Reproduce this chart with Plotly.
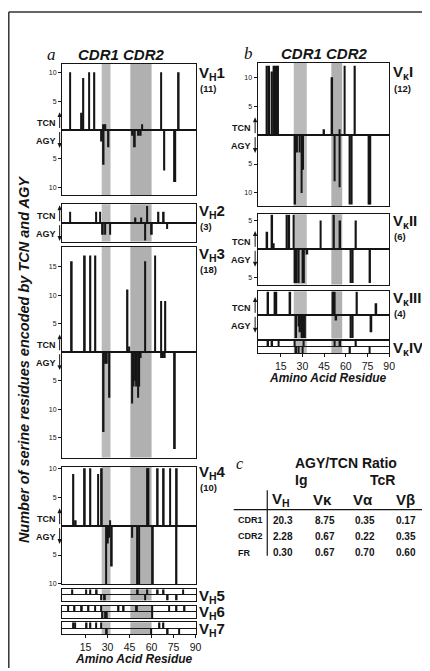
import plotly.graph_objects as go

W, H = 430, 671          # target window
OX, OY = 8, 8            # default page margin of the html body
FW, FH = W - OX, H - OY  # figure size
FONT = "Liberation Sans, Arial, sans-serif"
SERIF = "Liberation Serif, DejaVu Serif, serif"
INK = "#151515"

# ---------------- data (residue position, number of sequences) ----------------
residue_ticks = [15, 30, 45, 60, 75, 90]

# panel a : VH families
vh1_tcn_pos = [4.5, 12.5, 13.5, 17.5, 21, 27.5, 28.5, 53.5, 66.5, 78.5]
vh1_tcn_n   = [10, 3, 9, 10, 10, 1, 1, 1, 10, 10]
vh1_agy_pos = [26, 27.3, 30.6, 46.8, 48.6, 50.8, 52.6, 68.7, 75.4, 76.2]
vh1_agy_n   = [2, 6, 3, 1, 3, 1, 1, 7, 9, 9]

vh2_tcn_pos = [4.4, 22.1, 25, 49, 53, 57, 64.7, 68.3]
vh2_tcn_n   = [2, 2, 2, 1, 1, 3, 2, 2]
vh2_agy_pos = [26.8, 28.4, 31.8, 55.7, 60.2, 70.5]
vh2_agy_n   = [2, 2, 2, 3, 2, 1]

vh3_tcn_pos = [5.6, 14.5, 18.3, 21.7, 43.6, 44.8, 55.7, 62.4, 66.5, 69.4]
vh3_tcn_n   = [16, 17, 17, 17, 11, 1, 16, 17, 9, 9]
vh3_agy_pos = [27.3, 28.4, 29.5, 31.3, 46.8, 47.8, 48.8, 49.8, 50.8, 51.6, 52.6,
               66.5, 67.7, 69.0, 75.9]
vh3_agy_n   = [14, 2, 2, 8, 9, 6, 5, 6, 8, 6, 1, 1, 1, 1, 17]

vh4_tcn_pos = [6.7, 8.3, 14.5, 18.3, 23.5, 26.1, 31.8, 56.9, 57.9, 64.2, 68.3, 72.7, 77.2]
vh4_tcn_n   = [9, 1, 10, 10, 9, 10, 1, 10, 10, 10, 10, 10, 10]
vh4_agy_pos = [29.1, 30.2, 31.0, 32.9, 46.8, 50.4, 51.5, 60.9, 77]
vh4_agy_n   = [10, 3, 2, 7, 2, 10, 10, 10, 10]

vh5_tcn_pos = [6, 15.5, 18.3, 22.6, 50.6, 57, 64.2, 68.2, 81.6]
vh5_agy_pos = [25.7, 28.2, 55.5, 71, 77.1]
vh6_tcn_pos = [3, 7.5, 12.5, 17, 21.5, 25.5, 37.5, 41, 50, 60.5, 72, 77, 82.5]
vh6_agy_pos = [26.5, 28.5, 29.5, 60.5]
vh7_tcn_pos = [6.5, 7.8, 15.7, 18.3, 22.1, 25.7, 65.4, 68.1]
vh7_agy_pos = [29.5, 59.7, 71, 78.8]

# panel b : V kappa families
vk1_tcn_pos = [5.5, 7, 9, 10.5, 12, 13.2, 45, 50.6, 55.7, 59.3, 66.3]
vk1_tcn_n   = [12, 12, 11, 12, 12, 12, 1, 10, 1, 12, 12]
vk1_agy_pos = [25, 26.3, 28, 29.5, 30.5, 52.3, 55.7, 62.9, 64, 76.2, 77]
vk1_agy_n   = [12, 3, 3, 10, 6, 8, 9, 12, 12, 12, 12]

vk2_tcn_pos = [5.7, 9.1, 10.2, 19.3, 20.9, 23.9, 42.7, 51.8, 56.1, 67]
vk2_tcn_n   = [3, 6, 1, 6, 6, 6, 5, 6, 5, 5]
vk2_agy_pos = [25, 26.1, 27.3, 30.2, 31.1, 33.4, 63.6, 64.8, 76.8]
vk2_agy_n   = [6, 6, 6, 6, 6, 1, 6, 6, 6]

vk3_tcn_pos = [6.3, 10.9, 12, 21.6, 51.3, 52.2, 67.7, 81.1]
vk3_tcn_n   = [4, 4, 4, 4, 4, 4, 4, 2]
vk3_agy_pos = [25.7, 27.3, 28.4, 29.5, 30.5, 31.8, 53.4, 63.6, 64.8, 77.7]
vk3_agy_n   = [4, 2, 3, 4, 4, 4, 1, 4, 4, 3]

vk4_tcn_pos = [6.3, 9.1, 13.6, 24.5, 30.7, 52.3, 56.1, 67]
vk4_agy_pos = [25.7, 27.3, 30.2, 62.9, 76.5]

cdr_a = [(26, 32), (45.5, 60)]
cdr_b = [(24, 33), (50, 57.5)]

# table c
table_rows = ["CDR1", "CDR2", "FR"]
ratio_vh = ["20.3", "2.28", "0.30"]
ratio_vk = ["8.75", "0.67", "0.67"]
ratio_va = ["0.35", "0.22", "0.70"]
ratio_vb = ["0.17", "0.35", "0.60"]

# ---------------- layout helpers (window pixels -> paper) ----------------
def px(x):
    return (x - OX) / FW

def py(y):
    return 1 - (y - OY) / FH

A_X = (62.9, 198.3)
B_X = (261.2, 394.7)

panels = [
    ("VH1", A_X, (62, 194.7), [-11.3, 11.5], (vh1_tcn_pos, vh1_tcn_n), (vh1_agy_pos, vh1_agy_n), [10, 5, -5, -10], cdr_a, False),
    ("VH2", A_X, (203.7, 241.3), [-3.2, 3.3], (vh2_tcn_pos, vh2_tcn_n), (vh2_agy_pos, vh2_agy_n), [], cdr_a, False),
    ("VH3", A_X, (246.7, 459), [-18.5, 18.5], (vh3_tcn_pos, vh3_tcn_n), (vh3_agy_pos, vh3_agy_n), [15, 10, 5, -5, -10, -15], cdr_a, False),
    ("VH4", A_X, (468, 586.3), [-10, 10.3], (vh4_tcn_pos, vh4_tcn_n), (vh4_agy_pos, vh4_agy_n), [10, 5, -5, -10], cdr_a, False),
    ("VH5", A_X, (591.7, 603), [-1, 1], (vh5_tcn_pos, [1] * len(vh5_tcn_pos)), (vh5_agy_pos, [1] * len(vh5_agy_pos)), [], cdr_a, False),
    ("VH6", A_X, (608.5, 620.5), [-1, 1], (vh6_tcn_pos, [1] * len(vh6_tcn_pos)), (vh6_agy_pos, [1] * len(vh6_agy_pos)), [], cdr_a, False),
    ("VH7", A_X, (625, 637), [-1, 1], (vh7_tcn_pos, [1] * len(vh7_tcn_pos)), (vh7_agy_pos, [1] * len(vh7_agy_pos)), [], cdr_a, True),
    ("VK1", B_X, (61.3, 205.7), [-12.3, 12.5], (vk1_tcn_pos, vk1_tcn_n), (vk1_agy_pos, vk1_agy_n), [10, 5, -5, -10], cdr_b, False),
    ("VK2", B_X, (213.7, 284.7), [-6.3, 6.1], (vk2_tcn_pos, vk2_tcn_n), (vk2_agy_pos, vk2_agy_n), [5, -5], cdr_b, False),
    ("VK3", B_X, (291.3, 339), [-4.1, 4.1], (vk3_tcn_pos, vk3_tcn_n), (vk3_agy_pos, vk3_agy_n), [], cdr_b, False),
    ("VK4", B_X, (341.5, 353.5), [-1, 1], (vk4_tcn_pos, [1] * len(vk4_tcn_pos)), (vk4_agy_pos, [1] * len(vk4_agy_pos)), [], cdr_b, True),
]
STRIPS = ("VH5", "VH6", "VH7", "VK4")

fig = go.Figure()
layout = dict(
    width=FW, height=FH, autosize=False,
    margin=dict(l=0, r=0, t=0, b=0),
    paper_bgcolor="white", plot_bgcolor="white",
    barmode="overlay", showlegend=False,
    font=dict(family=FONT, color=INK),
)
shapes = []
annotations = []


def note(text, x, y, size, xanchor="center", yanchor="middle", family=FONT, angle=0):
    annotations.append(dict(text=text, x=px(x), y=py(y), xref="paper", yref="paper",
                            xanchor=xanchor, yanchor=yanchor, showarrow=False, textangle=angle,
                            font=dict(size=size, family=family, color=INK)))


def arrow(x, y_tail, y_tip):
    d = 1 if y_tip > y_tail else -1
    base = y_tip - d * 5
    shapes.append(dict(type="line", xref="paper", yref="paper", x0=px(x), x1=px(x),
                       y0=py(y_tail), y1=py(base), line=dict(color=INK, width=1)))
    shapes.append(dict(type="path", xref="paper", yref="paper",
                       path="M {:.5f},{:.5f} L {:.5f},{:.5f} L {:.5f},{:.5f} Z".format(
                           px(x - 2.2), py(base), px(x + 2.2), py(base), px(x), py(y_tip)),
                       fillcolor=INK, line=dict(width=0)))


for i, (name, xdom, (top, bot), yr, tcn, agy, tv, cdr, bottom) in enumerate(panels, start=1):
    s = "" if i == 1 else str(i)
    xa, ya = "x" + s, "y" + s
    for pos, n, sign in ((tcn[0], tcn[1], 1), (agy[0], agy[1], -1)):
        fig.add_trace(go.Bar(
            x=pos, y=[sign * v for v in n], width=1.15,
            marker=dict(color=INK, line=dict(width=0)),
            xaxis=xa, yaxis=ya, hoverinfo="skip", showlegend=False,
        ))
    xax = dict(domain=[px(xdom[0]), px(xdom[1])], range=[-1, 90], anchor=ya,
               showline=True, mirror=True, linecolor=INK, linewidth=1.2,
               showgrid=False, zeroline=False, fixedrange=True)
    if bottom:
        xax.update(tickvals=residue_ticks, ticks="outside", ticklen=3, tickwidth=1,
                   tickcolor=INK, showticklabels=True,
                   tickfont=dict(size=10.5, family=FONT, color=INK))
    else:
        xax.update(ticks="", showticklabels=False)
    yax = dict(domain=[py(bot), py(top)], range=yr, anchor=xa,
               showline=True, mirror=True, linecolor=INK, linewidth=1.2,
               showgrid=False, zeroline=True, zerolinecolor=INK,
               zerolinewidth=1.3 if name in STRIPS else 2,
               fixedrange=True)
    if tv:
        yax.update(tickvals=tv, ticktext=[str(abs(v)) for v in tv], ticks="outside",
                   ticklen=3, tickwidth=1, tickcolor=INK, showticklabels=True,
                   tickfont=dict(size=7, family=FONT, color=INK))
    else:
        yax.update(ticks="", showticklabels=False)
    layout["xaxis" + s] = xax
    layout["yaxis" + s] = yax
    for (c0, c1), col in zip(cdr, ("#bababa", "#b0b0b0")):
        shapes.append(dict(type="rect", xref=xa, yref=ya + " domain", x0=c0, x1=c1,
                           y0=0, y1=1, fillcolor=col, line=dict(width=0), layer="below"))
    if name not in STRIPS:
        lo, hi = yr
        zero = top + (hi / (hi - lo)) * (bot - top)
        tx = xdom[0] - 4.5
        note("<b>TCN</b>", tx, zero - 7, 9, xanchor="right")
        note("<b>AGY</b>", tx, zero + 11, 9, xanchor="right")
        arrow(xdom[0] - 2.5, zero - 2, zero - 18)
        arrow(xdom[0] - 2.5, zero + 2, zero + 18)

# panel headers
note("<i>a</i>", 52, 53, 17, family=SERIF)
note("<b><i>CDR1 CDR2</i></b>", 123, 53, 15)
note("<i>b</i>", 252, 52, 17, family=SERIF)
note("<b><i>CDR1 CDR2</i></b>", 329, 52, 15)

# family labels
fam_labels = [
    ("<b>V<sub>H</sub>1</b>", 200, 72, "<b>(11)</b>", 87),
    ("<b>V<sub>H</sub>2</b>", 200, 211, "<b>(3)</b>", 226),
    ("<b>V<sub>H</sub>3</b>", 200, 254, "<b>(18)</b>", 269),
    ("<b>V<sub>H</sub>4</b>", 200, 474, "<b>(10)</b>", 489),
    ("<b>V<sub>H</sub>5</b>", 200, 599, None, None),
    ("<b>V<sub>H</sub>6</b>", 200, 615, None, None),
    ("<b>V<sub>H</sub>7</b>", 200, 632, None, None),
    ("<b>V<sub>κ</sub>I</b>", 397, 71, "<b>(12)</b>", 87),
    ("<b>V<sub>κ</sub>II</b>", 397, 221, "<b>(6)</b>", 236),
    ("<b>V<sub>κ</sub>III</b>", 397, 299, "<b>(4)</b>", 314),
    ("<b>V<sub>κ</sub>IV</b>", 397, 349, None, None),
]
for lab, x, y, cnt, cy in fam_labels:
    note(lab, x, y, 15, xanchor="left")
    if cnt:
        note(cnt, x + 1, cy, 9.5, xanchor="left")

# axis titles
note("<b><i>Amino Acid Residue</i></b>", 136, 662, 12)
note("<b><i>Amino Acid Residue</i></b>", 333, 378.5, 12)
note("<b><i>Number of serine residues encoded by TCN and AGY</i></b>", 25, 360, 14.5, angle=-90)

# table c
note("<i>c</i>", 243, 465, 16, family=SERIF)
note("<b>AGY/TCN Ratio</b>", 351, 464, 14)
note("<b>Ig</b>", 305, 482, 14)
note("<b>TcR</b>", 388, 482, 14)
col_x = [285, 327, 368, 411]
for hdr, x in zip(["V<sub>H</sub>", "Vκ", "Vα", "Vβ"], col_x):
    note("<b>" + hdr + "</b>", x, 501, 15)
row_y = [522, 538, 555]
for r, y in zip(table_rows, row_y):
    note("<b>" + r + "</b>", 239, y, 9, xanchor="left")
for vals, x, anchor in ((ratio_vh, 275, "left"), (ratio_vk, 330, "center"),
                        (ratio_va, 370, "center"), (ratio_vb, 412, "center")):
    for v, y in zip(vals, row_y):
        note("<b>" + v + "</b>", x, y, 10, xanchor=anchor)

line = dict(color=INK, width=1.2)
shapes += [
    dict(type="line", xref="paper", yref="paper", x0=px(237), x1=px(430), y0=py(511.5), y1=py(511.5), line=line),
    dict(type="line", xref="paper", yref="paper", x0=px(271), x1=px(271), y0=py(492), y1=py(558), line=line),
    # outer frame
    dict(type="line", xref="paper", yref="paper", x0=px(8.8), x1=px(430), y0=py(10), y1=py(10),
         line=dict(color="#333", width=1.5)),
    dict(type="line", xref="paper", yref="paper", x0=px(8.8), x1=px(8.8), y0=py(10), y1=py(671),
         line=dict(color="#333", width=1.5)),
]

layout["shapes"] = shapes
layout["annotations"] = annotations
fig.update_layout(**layout)
fig.write_html("out.html")
